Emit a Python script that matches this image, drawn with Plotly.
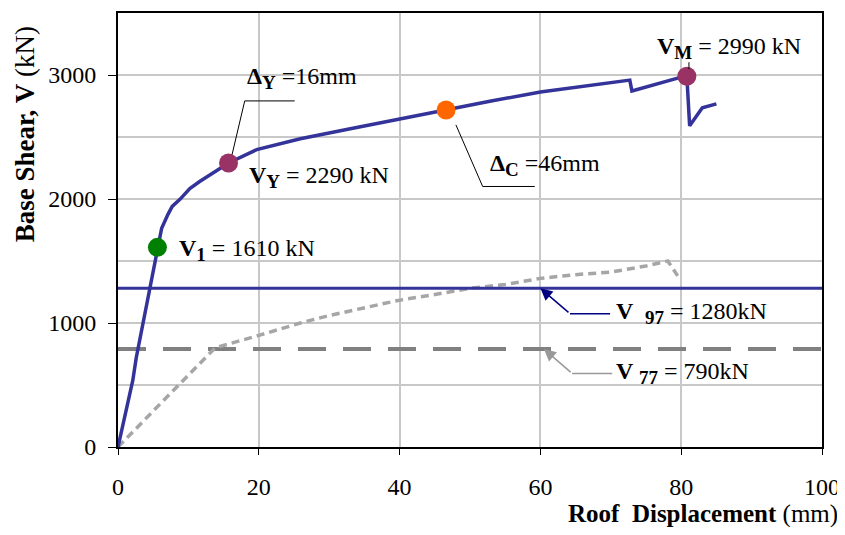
import plotly.graph_objects as go

# Pushover (capacity) curve: roof displacement (mm) vs base shear (kN)
disp = [0, 1.0, 2.1, 2.6, 3.6, 4.5, 5.6, 6.2, 7.1, 7.7, 8.8, 10.2, 11.6, 13.8, 15.7,
        19.7, 22.6, 25.9, 33.0, 40.0, 46.6, 53.0, 60.0, 66.0, 72.7, 73.0, 76.0, 79.5,
        80.8, 81.2, 83.0, 85.0]
shear = [0, 250, 537, 722, 1018, 1275, 1610, 1764, 1876, 1940, 1997, 2085, 2141, 2221, 2290,
         2398, 2438, 2486, 2566, 2646, 2718, 2790, 2863, 2910, 2959, 2871, 2920, 2975,
         2990, 2590, 2735, 2767]

# UBC-77 style lower curve (gray dotted)
disp77 = [0, 5, 10, 13.8, 20, 25.9, 30, 39.6, 45, 50, 55, 60, 65, 70, 75, 78.1, 79.5]
shear77 = [0, 290, 570, 800, 900, 1000, 1060, 1180, 1230, 1280, 1310, 1360, 1390, 1410, 1460, 1500, 1380]

# Code base-shear levels
V97 = 1280
V77 = 790
x_span = [0, 100]

# Key points: V1, VY, ΔC, VM
key_x = [5.6, 15.7, 46.6, 80.8]
key_y = [1610, 2290, 2718, 2990]
key_colors = ["#008000", "#993366", "#FF6600", "#993366"]

x_ticks = [0, 20, 40, 60, 80, 100]
y_ticks = [0, 1000, 2000, 3000]

FONT = "Liberation Serif"
BLUE = "#333399"

fig = go.Figure()

fig.add_trace(go.Scatter(x=x_span, y=[V77, V77], mode="lines",
                         line=dict(color="#808080", width=4, dash="28px,17px"), hoverinfo="skip"))
fig.add_trace(go.Scatter(x=disp77, y=shear77, mode="lines",
                         line=dict(color="#a6a6a6", width=3.5, dash="8px,5px"), hoverinfo="skip"))
fig.add_trace(go.Scatter(x=x_span, y=[V97, V97], mode="lines",
                         line=dict(color=BLUE, width=3), hoverinfo="skip"))
fig.add_trace(go.Scatter(x=disp, y=shear, mode="lines",
                         line=dict(color=BLUE, width=3.5), hoverinfo="skip"))
fig.add_trace(go.Scatter(x=key_x, y=key_y, mode="markers",
                         marker=dict(color=key_colors, size=19, line=dict(width=0)), hoverinfo="skip"))


def sub(s):
    return "<sub><b><span style='font-size:19px'>" + s + "</span></b></sub>"


ann_font = dict(family=FONT, size=24, color="black")
annotations = [
    dict(x=8.4, y=1590, text="<b>V</b>" + sub("1") + " = 1610 kN"),
    dict(x=18.0, y=2975, text="<b>Δ</b>" + sub("Y") + " =16mm"),
    dict(x=18.3, y=2180, text="<b>V</b>" + sub("Y") + " = 2290 kN"),
    dict(x=52.6, y=2277, text="<b>Δ</b>" + sub("C") + " =46mm"),
    dict(x=76.3, y=3216, text="<b>V</b>" + sub("M") + " = 2990 kN"),
    dict(x=70.4, y=1083, text="<b>V  </b>" + sub("97") + " = 1280kN"),
    dict(x=70.4, y=593, text="<b>V </b>" + sub("77") + " = 790kN"),
]
for a in annotations:
    fig.add_annotation(xref="x", yref="y", showarrow=False, xanchor="left", yanchor="middle",
                       font=ann_font, **a)

# arrows to the code levels
fig.add_annotation(x=60.0, y=V97, ax=64.2, ay=1075, xref="x", yref="y", axref="x", ayref="y",
                   text="", showarrow=True, arrowhead=2, arrowsize=1.6, arrowwidth=1.5, arrowcolor="#000080")
fig.add_annotation(x=60.5, y=V77, ax=64.5, ay=593, xref="x", yref="y", axref="x", ayref="y",
                   text="", showarrow=True, arrowhead=2, arrowsize=1.6, arrowwidth=1.5, arrowcolor="#999999")

shapes = [
    dict(type="path", path="M 16.2,2358 L 18.0,2791 L 25.1,2791", line=dict(color="black", width=1)),
    dict(type="path", path="M 48.0,2598 L 51.8,2101 L 59.2,2101", line=dict(color="black", width=1)),
    dict(type="line", x0=81.1, x1=81.1, y0=3047, y1=3103, line=dict(color="black", width=1)),
    dict(type="line", x0=64.2, x1=69.9, y0=1075, y1=1075, line=dict(color="#000080", width=1.5)),
    dict(type="line", x0=64.5, x1=70.2, y0=593, y1=593, line=dict(color="#999999", width=1.5)),
]
for s in shapes:
    fig.add_shape(xref="x", yref="y", **s)

# axis titles
fig.add_annotation(xref="paper", yref="paper", x=1.0256, y=-0.154, xanchor="right", yanchor="middle",
                   text="<b>Roof  Displacement</b> (mm)", showarrow=False,
                   font=dict(family=FONT, size=25, color="black"))
fig.add_annotation(xref="paper", yref="paper", x=-0.132, y=0.721, xanchor="center", yanchor="middle",
                   text="<b>Base Shear, V</b> (kN)", textangle=-90, showarrow=False,
                   font=dict(family=FONT, size=27, color="black"))

fig.update_xaxes(range=[0, 100], tickvals=x_ticks, ticks="outside", ticklen=6, tickcolor="black",
                 showline=True, linecolor="black", linewidth=2, mirror=True,
                 showgrid=True, gridcolor="#c8c8c8", gridwidth=2, zeroline=False,
                 ticklabelstandoff=11, ticklabeloverflow="allow",
                 tickfont=dict(family=FONT, size=24, color="black"))
fig.update_yaxes(range=[0, 3500], tickvals=y_ticks, ticks="outside", ticklen=8, tickcolor="black",
                 showline=True, linecolor="black", linewidth=2, mirror=True,
                 showgrid=True, gridcolor="#c8c8c8", gridwidth=2, zeroline=False,
                 minor=dict(dtick=500, tick0=0, showgrid=True, gridcolor="#c8c8c8", gridwidth=2, ticks=""),
                 ticklabelstandoff=7,
                 tickfont=dict(family=FONT, size=24, color="black"))

# the page body has an 8px margin, so the figure is sized to fit the 845x535 window
fig.update_layout(width=837, height=519, showlegend=False,
                  margin=dict(l=110, r=23, t=3, b=80),
                  plot_bgcolor="white", paper_bgcolor="white")

fig.write_html("out.html")
